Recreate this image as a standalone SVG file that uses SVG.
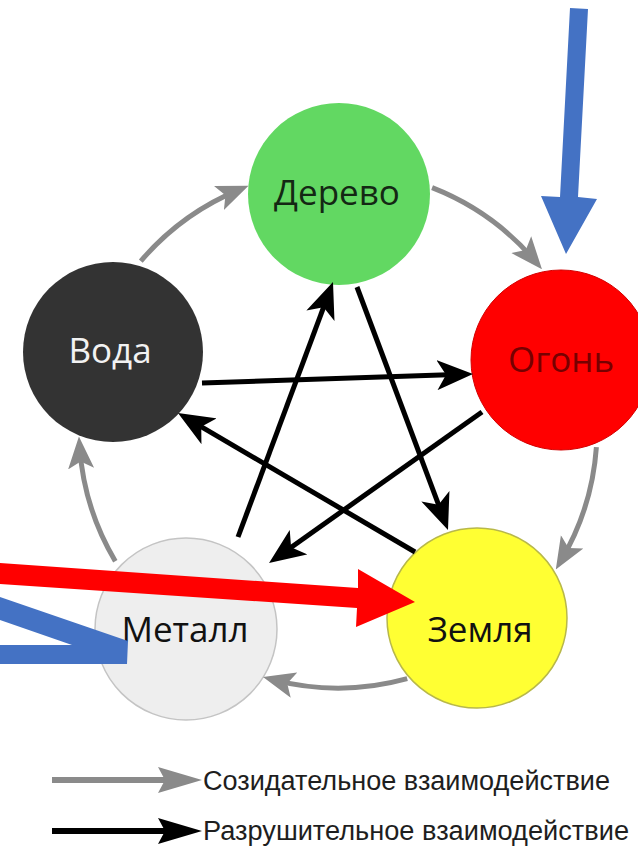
<svg xmlns="http://www.w3.org/2000/svg" width="638" height="850" viewBox="0 0 638 850">
<style>
.lbl{font-family:"Open Sans","Noto Sans","DejaVu Sans",sans-serif;font-size:35px;text-anchor:middle}
.leg{font-family:"Liberation Sans",Arial,sans-serif;font-size:27px;fill:#1e1e1e}
.blk{stroke:#000;stroke-width:5;fill:none;marker-end:url(#hb)}
.gry{stroke:#8a8a8a;stroke-width:5;fill:none;marker-end:url(#hg)}
</style>
<defs>
<marker id="hb" markerUnits="userSpaceOnUse" markerWidth="36" markerHeight="30" refX="26" refY="15" orient="auto">
<path d="M0,0 L36,15 L0,30 L9,15 Z" fill="#000"/>
</marker>
<marker id="hg" markerUnits="userSpaceOnUse" markerWidth="32" markerHeight="28" refX="22" refY="14" orient="auto">
<path d="M0,1 L32,14 L0,27 L7,14 Z" fill="#8a8a8a"/>
</marker>
</defs>
<rect width="638" height="850" fill="#fff"/>
<g id="nodes">
<g id="derevo"><circle cx="339" cy="194" r="91" fill="#62d862"/><text class="lbl" x="337" y="205" fill="#142814">Дерево</text></g>
<g id="ogon"><circle cx="561" cy="360" r="90" fill="#ff0000" stroke="#d40000" stroke-width="1"/><text class="lbl" x="561" y="372" fill="#760000">Огонь</text></g>
<g id="zemlya"><circle cx="477" cy="618" r="90" fill="#ffff33" stroke="#b8b84a" stroke-width="1.5"/><text class="lbl" x="480" y="642" fill="#111">Земля</text></g>
<g id="metall"><circle cx="186" cy="629" r="91" fill="#eeeeee" stroke="#c4c4c4" stroke-width="1.5"/><text class="lbl" x="185" y="642" fill="#111">Металл</text></g>
<g id="voda"><circle cx="113" cy="352" r="90" fill="#333333"/><text class="lbl" x="110" y="363" fill="#f2f2f2">Вода</text></g>
</g>
<g id="connectors">
<path class="gry" d="M140.8,261.1 A259,259 0 0 1 239.3,189.6"/>
<path class="gry" d="M432.1,187.7 A259,259 0 0 1 535.5,261.5"/>
<path class="gry" d="M596.4,447.1 A259,259 0 0 1 560.9,560.8"/>
<path class="gry" d="M407.2,678.6 A259,259 0 0 1 272.7,679.6"/>
<path class="gry" d="M115.3,561.2 A259,259 0 0 1 79.6,446.6"/>
<line class="blk" x1="202" y1="383" x2="463" y2="374.3"/>
<line class="blk" x1="238" y1="537" x2="329.5" y2="291.4"/>
<line class="blk" x1="357" y1="287" x2="444.5" y2="520.6"/>
<line class="blk" x1="415" y1="552" x2="186.6" y2="418.1"/>
<line class="blk" x1="482" y1="412" x2="277.2" y2="557.2"/>
</g>
<g id="annotations">
<polygon points="570,8 588,9 578,197 597,199 566,254 541,196 560,197" fill="#4472c4"/>
<polygon points="0,597 128,641 127,664 0,664 0,645 72,645 0,620" fill="#4472c4"/>
<polygon points="0,563 358,588 358,569 415,602 356,627 357,608 0,584" fill="#ff0000"/>
</g>
<g id="legend">
<line x1="52" y1="780" x2="168" y2="780" stroke="#8a8a8a" stroke-width="6"/>
<path d="M158,767 L202,780 L158,793 L165,780 Z" fill="#8a8a8a"/>
<text class="leg" x="203" y="790" textLength="407" lengthAdjust="spacingAndGlyphs">Созидательное взаимодействие</text>
<line x1="52" y1="831" x2="168" y2="831" stroke="#000" stroke-width="6"/>
<path d="M158,818 L202,831 L158,844 L165,831 Z" fill="#000"/>
<text class="leg" x="203" y="840" textLength="426" lengthAdjust="spacingAndGlyphs">Разрушительное взаимодействие</text>
</g>
</svg>
